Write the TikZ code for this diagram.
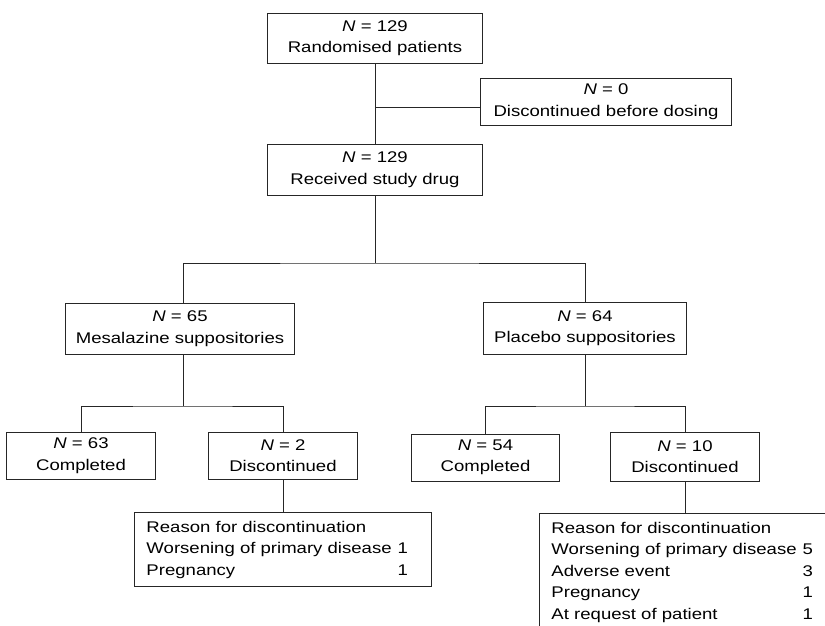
\documentclass[tikz,border=0pt]{standalone}
\usepackage{fontspec}
\setmainfont[FakeStretch=1.2]{Liberation Sans}
\usepackage{tikz}
\usetikzlibrary{positioning}

\begin{document}
\begin{tikzpicture}[x=0.025cm,y=-0.025cm,
    font=\fontsize{11}{15.3}\selectfont,
    box/.style={draw=black!85,line width=0.7pt,align=center,inner sep=0pt},
    reasonbox/.style={draw=black!85,line width=0.7pt,anchor=north west,align=left,
      inner xsep=0.3cm,inner ysep=0.12cm}]
    \useasboundingbox (0,0) rectangle (825,626);
    \clip (0,0) rectangle (825,626);
    \node[box,minimum width=5.35cm,minimum height=1.25cm] (rand) at (375,38) {\textit{N} = 129\\Randomised patients};
    \node[box,minimum width=6.25cm,minimum height=1.175cm] (disc0) at (606,101.5) {\textit{N} = 0\\Discontinued before dosing};
    \node[box,minimum width=5.35cm,minimum height=1.275cm] (recv) at (375,169.5) {\textit{N} = 129\\Received study drug};
    \node[box,minimum width=5.725cm,minimum height=1.275cm] (mesa) at (180,328.5) {\textit{N} = 65\\Mesalazine suppositories};
    \node[box,minimum width=5.05cm,minimum height=1.3cm] (plac) at (585,328) {\textit{N} = 64\\Placebo suppositories};
    \node[box,minimum width=3.7cm,minimum height=1.175cm] (comp1) at (81,455.5) {\textit{N} = 63\\Completed};
    \node[box,minimum width=3.7cm,minimum height=1.175cm] (disc1) at (283,455.5) {\textit{N} = 2\\Discontinued};
    \node[box,minimum width=3.675cm,minimum height=1.175cm] (comp2) at (485.5,457.5) {\textit{N} = 54\\Completed};
    \node[box,minimum width=3.7cm,minimum height=1.225cm] (disc2) at (685,456.5) {\textit{N} = 10\\Discontinued};
    \node[reasonbox,text width=6.825cm,minimum height=1.85cm] (reason1) at (134,512)
      {\begin{tabular}{@{}l@{\hspace{0.15cm}}r@{}}
        Reason for discontinuation & \\
        Worsening of primary disease & 1\\
        Pregnancy & 1
      \end{tabular}};
    \node[reasonbox,text width=7cm] (reason2) at (539,513)
      {\begin{tabular}{@{}l@{\hspace{0.15cm}}r@{}}
        Reason for discontinuation & \\
        Worsening of primary disease & 5\\
        Adverse event & 3\\
        Pregnancy & 1\\
        At request of patient & 1
      \end{tabular}};
    % junctions
    \coordinate (j0) at (375,107);
    \coordinate (j1) at (375,263);
    \coordinate (j2) at (183,406);
    \coordinate (j3) at (585,406);
    \begin{scope}[draw=black!85,line width=0.7pt]
    \draw (rand) -- (recv);
    \draw (j0) -- (j0 -| disc0.west);
    \draw (recv.south) -- (j1);
    \draw (mesa.north -| j2) |- (j1) -| (plac.north);
    \draw (mesa.south -| j2) -- (j2);
    \draw (comp1.north) |- (j2) -| (disc1.north);
    \draw (plac.south) -- (j3);
    \draw (comp2.north) |- (j3) -| (disc2.north);
    \draw (disc1.south) -- (disc1.south |- reason1.north);
    \draw (disc2.south) -- (disc2.south |- reason2.north);
    \end{scope}
\end{tikzpicture}
\end{document}
